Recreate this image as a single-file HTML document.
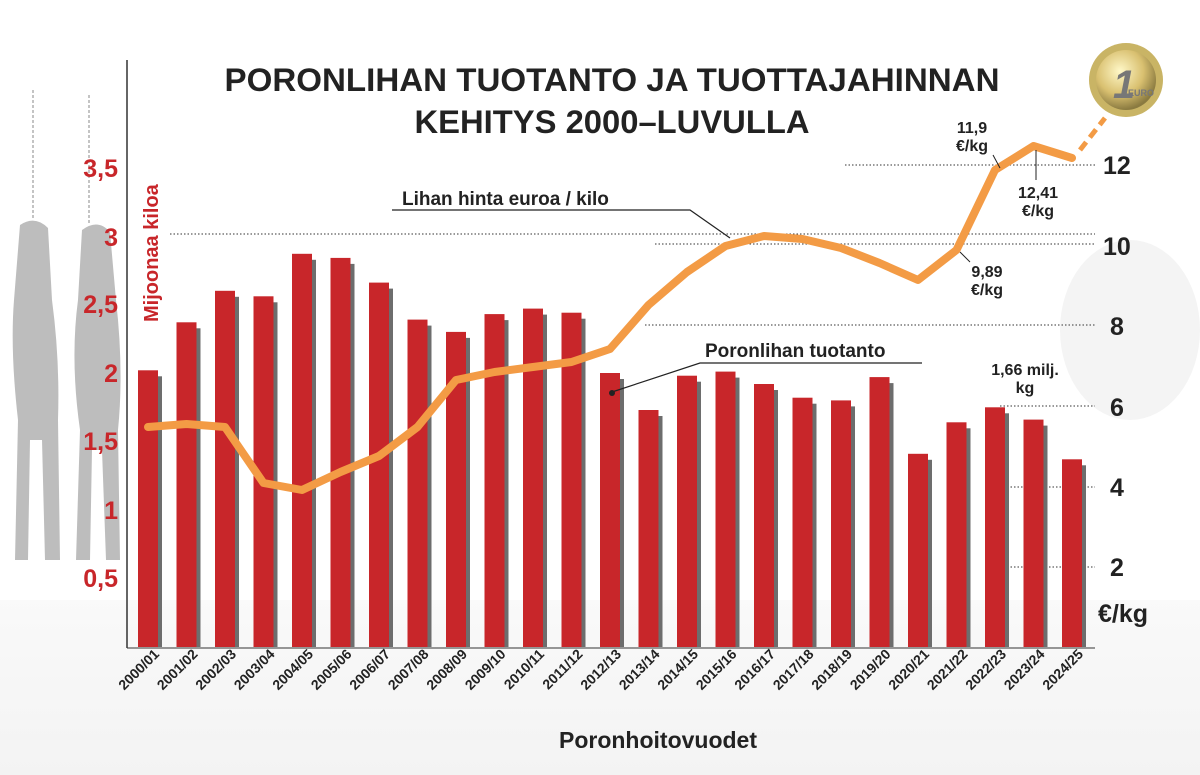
<!DOCTYPE html>
<html><head><meta charset="utf-8"><style>
html,body{margin:0;padding:0;background:#fff}
svg{display:block}
text{font-family:"Liberation Sans Narrow","Liberation Sans",sans-serif;font-weight:bold}
</style></head><body>
<svg width="1200" height="775" viewBox="0 0 1200 775" xmlns="http://www.w3.org/2000/svg">
<defs>
<radialGradient id="coin" cx="40%" cy="35%" r="65%"><stop offset="0" stop-color="#fff8c8"/><stop offset="0.6" stop-color="#d9c070"/><stop offset="1" stop-color="#8a7a40"/></radialGradient>
<linearGradient id="fade" x1="0" x2="0" y1="0" y2="1"><stop offset="0" stop-color="#f6f6f6"/><stop offset="1" stop-color="#ebebeb"/></linearGradient>
</defs>
<rect width="1200" height="775" fill="#fff"/>
<rect x="0" y="600" width="1200" height="175" fill="url(#fade)" opacity="0.6"/>
<g fill="#a8a8a8" opacity="0.75">
<path d="M20 225 Q35 215 48 228 L52 300 Q60 360 58 420 L60 560 L45 560 L42 440 L30 440 L28 560 L15 560 L18 420 Q10 350 14 300 Z"/>
<path d="M82 230 Q98 218 110 232 L116 300 Q124 370 118 430 L120 560 L106 560 L102 450 L92 450 L90 560 L76 560 L80 430 Q70 360 78 300 Z"/>
</g>
<g stroke="#888" stroke-dasharray="3,2" stroke-width="1"><line x1="33" y1="90" x2="33" y2="220"/><line x1="89" y1="95" x2="89" y2="225"/></g>
<g fill="#f0f0f0" opacity="0.7"><ellipse cx="1130" cy="330" rx="70" ry="90"/></g>
<g stroke="#333" stroke-width="1" stroke-dasharray="1.5,2">
<line x1="845" y1="165" x2="1095" y2="165"/>
<line x1="170" y1="234" x2="1095" y2="234"/>
<line x1="655" y1="244" x2="1095" y2="244"/>
<line x1="645" y1="325" x2="1095" y2="325"/>
<line x1="1000" y1="406" x2="1095" y2="406"/>
<line x1="1000" y1="487" x2="1095" y2="487"/>
<line x1="1000" y1="567" x2="1095" y2="567"/>
</g>
<g fill="#6d6d6d">
<rect x="142" y="376.3" width="20" height="270.7"/>
<rect x="180.5" y="328.3" width="20" height="318.7"/>
<rect x="219" y="296.8" width="20" height="350.2"/>
<rect x="257.5" y="302.3" width="20" height="344.7"/>
<rect x="296" y="259.8" width="20" height="387.2"/>
<rect x="334.5" y="263.9" width="20" height="383.1"/>
<rect x="373" y="288.6" width="20" height="358.4"/>
<rect x="411.5" y="325.6" width="20" height="321.4"/>
<rect x="450" y="337.9" width="20" height="309.1"/>
<rect x="488.5" y="320.1" width="20" height="326.9"/>
<rect x="527" y="314.6" width="20" height="332.4"/>
<rect x="565.5" y="318.7" width="20" height="328.3"/>
<rect x="604" y="379" width="20" height="268"/>
<rect x="642.5" y="416" width="20" height="231"/>
<rect x="681" y="381.7" width="20" height="265.3"/>
<rect x="719.5" y="377.6" width="20" height="269.4"/>
<rect x="758" y="390" width="20" height="257"/>
<rect x="796.5" y="403.7" width="20" height="243.3"/>
<rect x="835" y="406.4" width="20" height="240.6"/>
<rect x="873.5" y="383.1" width="20" height="263.9"/>
<rect x="912" y="459.8" width="20" height="187.2"/>
<rect x="950.5" y="428.3" width="20" height="218.7"/>
<rect x="989" y="413.3" width="20" height="233.7"/>
<rect x="1027.5" y="425.6" width="20" height="221.4"/>
<rect x="1066" y="465.3" width="20" height="181.7"/>
</g>
<g fill="#c8262a">
<rect x="138" y="370.3" width="20" height="276.7"/>
<rect x="176.5" y="322.3" width="20" height="324.7"/>
<rect x="215" y="290.8" width="20" height="356.2"/>
<rect x="253.5" y="296.3" width="20" height="350.7"/>
<rect x="292" y="253.8" width="20" height="393.2"/>
<rect x="330.5" y="257.9" width="20" height="389.1"/>
<rect x="369" y="282.6" width="20" height="364.4"/>
<rect x="407.5" y="319.6" width="20" height="327.4"/>
<rect x="446" y="331.9" width="20" height="315.1"/>
<rect x="484.5" y="314.1" width="20" height="332.9"/>
<rect x="523" y="308.6" width="20" height="338.4"/>
<rect x="561.5" y="312.7" width="20" height="334.3"/>
<rect x="600" y="373" width="20" height="274"/>
<rect x="638.5" y="410" width="20" height="237"/>
<rect x="677" y="375.7" width="20" height="271.3"/>
<rect x="715.5" y="371.6" width="20" height="275.4"/>
<rect x="754" y="384" width="20" height="263"/>
<rect x="792.5" y="397.7" width="20" height="249.3"/>
<rect x="831" y="400.4" width="20" height="246.6"/>
<rect x="869.5" y="377.1" width="20" height="269.9"/>
<rect x="908" y="453.8" width="20" height="193.2"/>
<rect x="946.5" y="422.3" width="20" height="224.7"/>
<rect x="985" y="407.3" width="20" height="239.7"/>
<rect x="1023.5" y="419.6" width="20" height="227.4"/>
<rect x="1062" y="459.3" width="20" height="187.7"/>
</g>
<line x1="127" y1="60" x2="127" y2="648" stroke="#333" stroke-width="1.5"/>
<line x1="127" y1="648" x2="1095" y2="648" stroke="#333" stroke-width="1"/>
<g fill="#c8262a" font-size="25" text-anchor="end">
<text x="118" y="177">3,5</text><text x="118" y="246">3</text><text x="118" y="313">2,5</text><text x="118" y="382">2</text><text x="118" y="450">1,5</text><text x="118" y="519">1</text><text x="118" y="587">0,5</text>
</g>
<text transform="translate(158,322) rotate(-90)" fill="#c8262a" font-size="20">Mijoonaa kiloa</text>
<g fill="#222" font-size="25" text-anchor="start">
<text x="1103" y="174">12</text><text x="1103" y="255">10</text><text x="1110" y="335">8</text><text x="1110" y="416">6</text><text x="1110" y="496">4</text><text x="1110" y="576">2</text>
<text x="1098" y="622">€/kg</text>
</g>
<g fill="#222" font-size="32" text-anchor="middle">
<text x="612" y="91" textLength="775" lengthAdjust="spacingAndGlyphs">PORONLIHAN TUOTANTO JA TUOTTAJAHINNAN</text>
<text x="612" y="133" textLength="395" lengthAdjust="spacingAndGlyphs">KEHITYS 2000–LUVULLA</text>
</g>
<polyline fill="none" stroke="#f39b45" stroke-width="8" stroke-linejoin="round" stroke-linecap="round" points="148,427 186.5,424 225,427 263.5,483 302,490 340.5,472 379,456 417.5,427 456,380 494.5,372 533,367 571.5,362 610,349 648.5,305 687,272 725.5,246 764,236 802.5,239 841,248 879.5,263 918,280 956.5,250 995,170 1033.5,146 1072,158"/>
<line x1="1080" y1="150" x2="1105" y2="118" stroke="#f39b45" stroke-width="5" stroke-dasharray="10,6"/>
<circle cx="1126" cy="80" r="37" fill="#c9b465"/>
<circle cx="1126" cy="80" r="30" fill="url(#coin)"/>
<text x="1113" y="98" font-size="40" font-style="italic" fill="#777" font-family="Liberation Serif">1</text>
<text x="1128" y="96" font-size="9" fill="#777">EURO</text>
<g fill="#222" font-size="19">
<text x="402" y="205">Lihan hinta euroa / kilo</text>
<text x="705" y="357">Poronlihan tuotanto</text>
</g>
<polyline points="392,210 690,210 730,238" fill="none" stroke="#222" stroke-width="1.2"/>
<polyline points="922,363 700,363 612,392" fill="none" stroke="#222" stroke-width="1.2"/>
<circle cx="612" cy="393" r="3" fill="#222"/>
<g fill="#222" font-size="16" text-anchor="middle">
<text x="972" y="133">11,9</text><text x="972" y="151">€/kg</text>
<text x="1038" y="198">12,41</text><text x="1038" y="216">€/kg</text>
<text x="987" y="277">9,89</text><text x="987" y="295">€/kg</text>
<text x="1025" y="375">1,66 milj.</text><text x="1025" y="393">kg</text>
</g>
<line x1="993" y1="155" x2="1000" y2="168" stroke="#222"/>
<line x1="1036" y1="150" x2="1036" y2="180" stroke="#222"/>
<line x1="960" y1="252" x2="970" y2="262" stroke="#222"/>
<g fill="#222" font-size="14" text-anchor="end">
<text transform="translate(160,655) rotate(-45)">2000/01</text>
<text transform="translate(198.5,655) rotate(-45)">2001/02</text>
<text transform="translate(237,655) rotate(-45)">2002/03</text>
<text transform="translate(275.5,655) rotate(-45)">2003/04</text>
<text transform="translate(314,655) rotate(-45)">2004/05</text>
<text transform="translate(352.5,655) rotate(-45)">2005/06</text>
<text transform="translate(391,655) rotate(-45)">2006/07</text>
<text transform="translate(429.5,655) rotate(-45)">2007/08</text>
<text transform="translate(468,655) rotate(-45)">2008/09</text>
<text transform="translate(506.5,655) rotate(-45)">2009/10</text>
<text transform="translate(545,655) rotate(-45)">2010/11</text>
<text transform="translate(583.5,655) rotate(-45)">2011/12</text>
<text transform="translate(622,655) rotate(-45)">2012/13</text>
<text transform="translate(660.5,655) rotate(-45)">2013/14</text>
<text transform="translate(699,655) rotate(-45)">2014/15</text>
<text transform="translate(737.5,655) rotate(-45)">2015/16</text>
<text transform="translate(776,655) rotate(-45)">2016/17</text>
<text transform="translate(814.5,655) rotate(-45)">2017/18</text>
<text transform="translate(853,655) rotate(-45)">2018/19</text>
<text transform="translate(891.5,655) rotate(-45)">2019/20</text>
<text transform="translate(930,655) rotate(-45)">2020/21</text>
<text transform="translate(968.5,655) rotate(-45)">2021/22</text>
<text transform="translate(1007,655) rotate(-45)">2022/23</text>
<text transform="translate(1045.5,655) rotate(-45)">2023/24</text>
<text transform="translate(1084,655) rotate(-45)">2024/25</text>
</g>
<text x="658" y="748" text-anchor="middle" font-size="23" fill="#222">Poronhoitovuodet</text>
</svg>
</body></html>
